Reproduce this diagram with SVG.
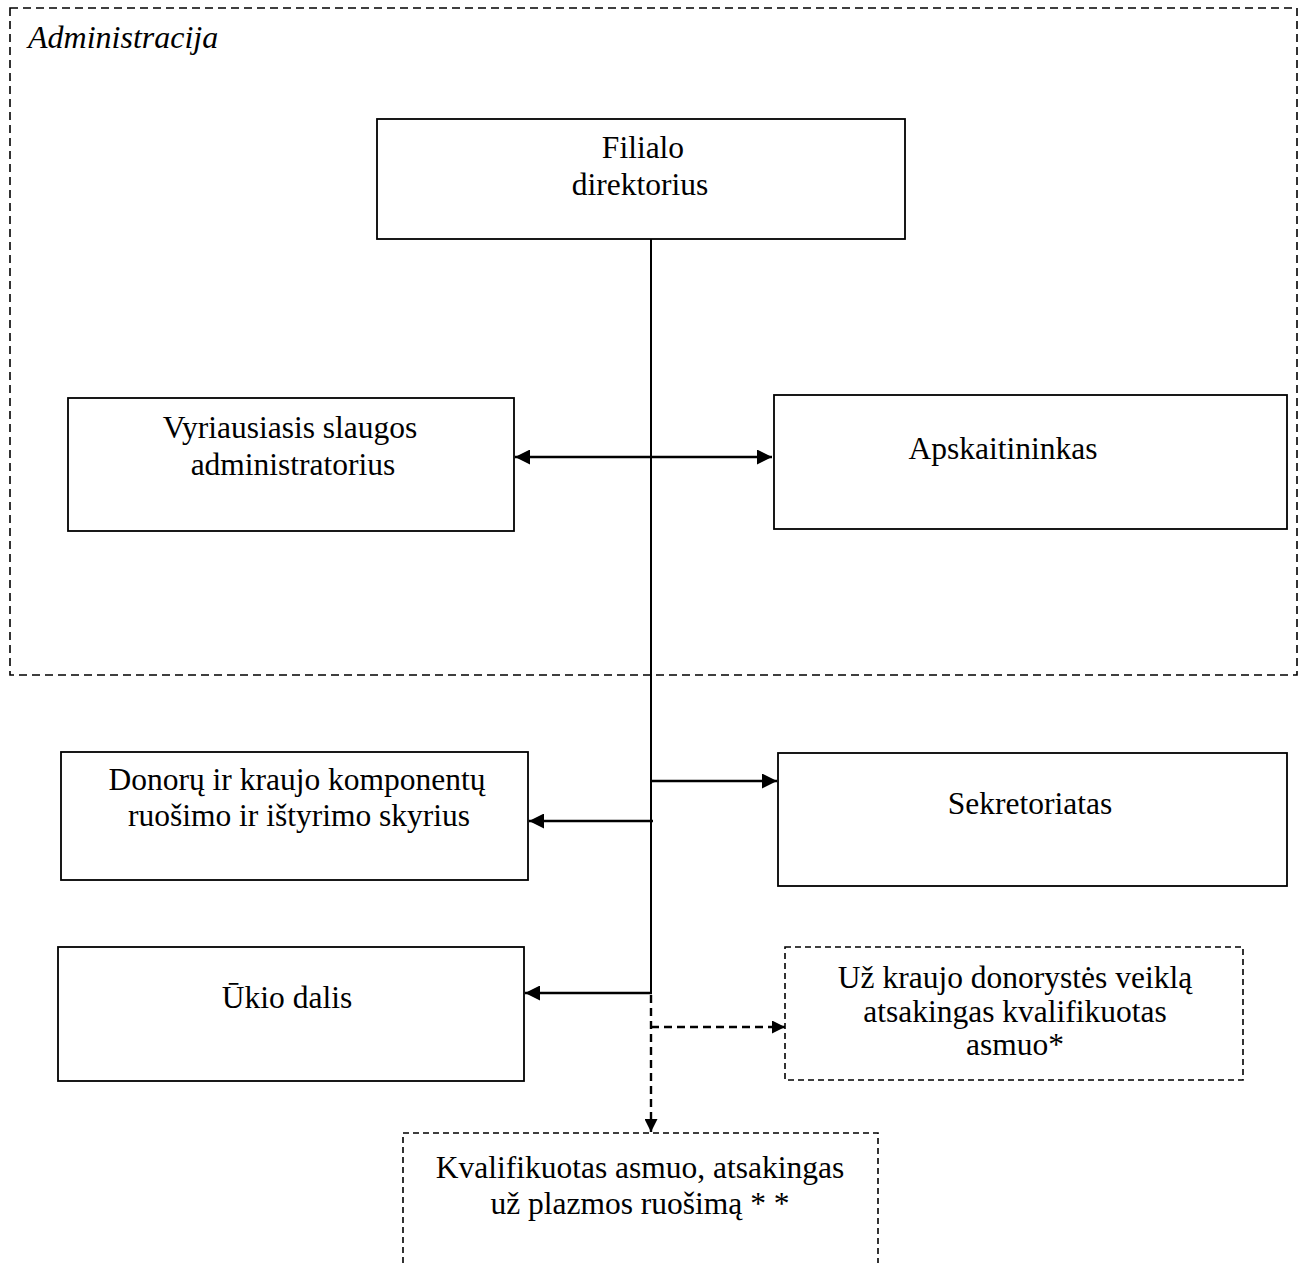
<svg xmlns="http://www.w3.org/2000/svg" width="1307" height="1263" viewBox="0 0 1307 1263">
<defs>
<style>
.box{fill:#fff;stroke:#000;stroke-width:1.8}
.dbox{fill:#fff;stroke:#000;stroke-width:1.6;stroke-dasharray:6 4}
.t{font-family:"Liberation Serif","Times New Roman",serif;font-size:31.5px;fill:#000;text-anchor:middle}
.ln{fill:none;stroke:#000;stroke-width:2.6}
.vl{fill:none;stroke:#000;stroke-width:2}
.dl{fill:none;stroke:#000;stroke-width:2.4;stroke-dasharray:8 5}
</style>
<marker id="ah" viewBox="0 0 15 15" refX="15" refY="7.5" markerWidth="15" markerHeight="15" markerUnits="userSpaceOnUse" orient="auto-start-reverse">
<path d="M0,0 L15,7.5 L0,15 Z" fill="#000"/>
</marker>
<marker id="ahs" viewBox="0 0 13 13" refX="13" refY="6.5" markerWidth="13" markerHeight="13" markerUnits="userSpaceOnUse" orient="auto">
<path d="M0,0 L13,6.5 L0,13 Z" fill="#000"/>
</marker>
</defs>
<rect x="0" y="0" width="1307" height="1263" fill="#fff"/>
<g id="administracija">
<rect x="10" y="8" width="1287" height="667" fill="none" stroke="#000" stroke-width="1.6" stroke-dasharray="8 5"/>
<text x="28" y="48" font-family="Liberation Serif, serif" font-size="32" font-style="italic">Administracija</text>
</g>
<g id="connectors">
<line class="vl" x1="651" y1="239" x2="651" y2="993"/>
<line class="ln" x1="515" y1="457" x2="772" y2="457" marker-start="url(#ah)" marker-end="url(#ah)"/>
<line class="ln" x1="651" y1="781" x2="777" y2="781" marker-end="url(#ah)"/>
<line class="ln" x1="653" y1="821" x2="529" y2="821" marker-end="url(#ah)"/>
<line class="ln" x1="652" y1="993" x2="525" y2="993" marker-end="url(#ah)"/>
<path class="dl" d="M651,995 L651,1132" marker-end="url(#ahs)"/>
<path class="dl" d="M651,1027 L785,1027" marker-end="url(#ahs)"/>
</g>
<g id="filialo">
<rect class="box" x="377" y="119" width="528" height="120"/>
<text class="t" x="643" y="158">Filialo</text>
<text class="t" x="640" y="195">direktorius</text>
</g>
<g id="vyriausiasis">
<rect class="box" x="68" y="398" width="446" height="133"/>
<text class="t" x="290" y="438">Vyriausiasis slaugos</text>
<text class="t" x="293" y="475">administratorius</text>
</g>
<g id="apskaitininkas">
<rect class="box" x="774" y="395" width="513" height="134"/>
<text class="t" x="1003" y="459">Apskaitininkas</text>
</g>
<g id="donoru">
<rect class="box" x="61" y="752" width="467" height="128"/>
<text class="t" x="297" y="790">Donorų ir kraujo komponentų</text>
<text class="t" x="299" y="826">ruošimo ir ištyrimo skyrius</text>
</g>
<g id="sekretoriatas">
<rect class="box" x="778" y="753" width="509" height="133"/>
<text class="t" x="1030" y="814">Sekretoriatas</text>
</g>
<g id="ukio">
<rect class="box" x="58" y="947" width="466" height="134"/>
<text class="t" x="287" y="1008">Ūkio dalis</text>
</g>
<g id="uz-kraujo">
<rect class="dbox" x="785" y="947" width="458" height="133"/>
<text class="t" x="1015" y="988">Už kraujo donorystės veiklą</text>
<text class="t" x="1015" y="1022">atsakingas kvalifikuotas</text>
<text class="t" x="1015" y="1055">asmuo*</text>
</g>
<g id="kvalifikuotas">
<rect class="dbox" x="403" y="1133" width="475" height="140"/>
<text class="t" x="640" y="1178">Kvalifikuotas asmuo, atsakingas</text>
<text class="t" x="640" y="1214">už plazmos ruošimą * *</text>
</g>
</svg>
